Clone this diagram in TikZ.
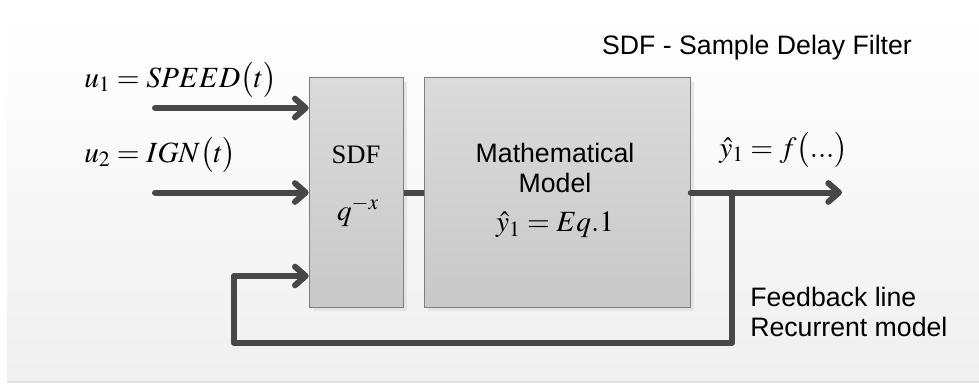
\documentclass[tikz,border=0pt]{standalone}
\usepackage{mathptmx}
\usepackage[no-math]{fontspec}
\setmainfont{Liberation Sans}
\newfontfamily\boxserif{Liberation Serif}
\usetikzlibrary{arrows.meta,positioning,shadows}

\definecolor{linegray}{HTML}{474747}
\definecolor{boxedge}{HTML}{7F7F7F}
\definecolor{boxtop}{HTML}{DBDBDB}
\definecolor{boxbot}{HTML}{C8C8C8}

\tikzset{
  block/.style={draw=boxedge, line width=0.8pt, top color=boxtop, bottom color=boxbot,
    inner sep=0pt, minimum height=172pt,
    drop shadow={shadow xshift=2.5pt, shadow yshift=-3pt, fill=black!10, opacity=1}},
  signal/.style={draw=linegray, line width=4.5pt, line join=round, line cap=round,
    -{Straight Barb[length=8pt, width=14pt, round]}},
  wire/.style={draw=linegray, line width=4.5pt},
  label/.style={font=\fontsize{20}{22.5}\selectfont, inner sep=0pt},
  eqn/.style={font=\fontsize{22}{24}\selectfont, inner sep=0pt}
}

\begin{document}
\begin{tikzpicture}[x=0.75pt, y=-0.75pt]
  \useasboundingbox (0,0) rectangle (979,383);
  % backdrop
  \shade[top color=white, bottom color=black!6] (7,12) rectangle (979,382);
  \draw[black!12, line width=1pt] (7,382) -- (979,382);

  % blocks
  \node[block, minimum width=71pt] (sdf) at (356.5,192.5) {};
  \node[block, minimum width=199pt, right=15pt of sdf] (model) {};

  \node[font=\boxserif\fontsize{20}{22}\selectfont, inner sep=0pt] (sdfname) at (356,155) {SDF};
  \node[eqn] (delay) at (358,212) {$q^{-x}$};
  \node[label, align=center] (modelname) at (555,168) {Mathematical\\Model};
  \node[eqn] (modeleq) at (555,225) {$\hat{y}_1 = Eq.1$};

  % signals
  \coordinate (in1) at (155,108);
  \coordinate (in2) at (155,192.5);
  \coordinate (out) at (842,192.5);
  \coordinate (tap) at (732,192.5);
  \coordinate (fbr) at (732,343);
  \coordinate (fbl) at (234,343);
  \coordinate (fbturn) at (234,276);

  \draw[signal] (in1) -- (in1 -| sdf.west);
  \draw[signal] (in2) -- (in2 -| sdf.west);
  \draw[wire] (sdf.east) -- (model.west);
  \draw[signal] (model.east) -- (out);
  \draw[signal] (tap) -- (fbr) -- (fbl) -- (fbturn) -- (fbturn -| sdf.west);

  % labels
  \node[eqn, anchor=west] (u1) at (84,80) {$u_1 = SPEED\big(t\big)$};
  \node[eqn, anchor=west] (u2) at (84,155) {$u_2 = IGN\big(t\big)$};
  \node[eqn, anchor=west] (yout) at (719,150) {$\hat{y}_1 = f\big(...\big)$};
  \node[label] (legend) at (757,48) {SDF - Sample Delay Filter};
  \node[label, align=left, anchor=north west] (fbnote) at (750,287) {Feedback line\\Recurrent model};
\end{tikzpicture}
\end{document}
